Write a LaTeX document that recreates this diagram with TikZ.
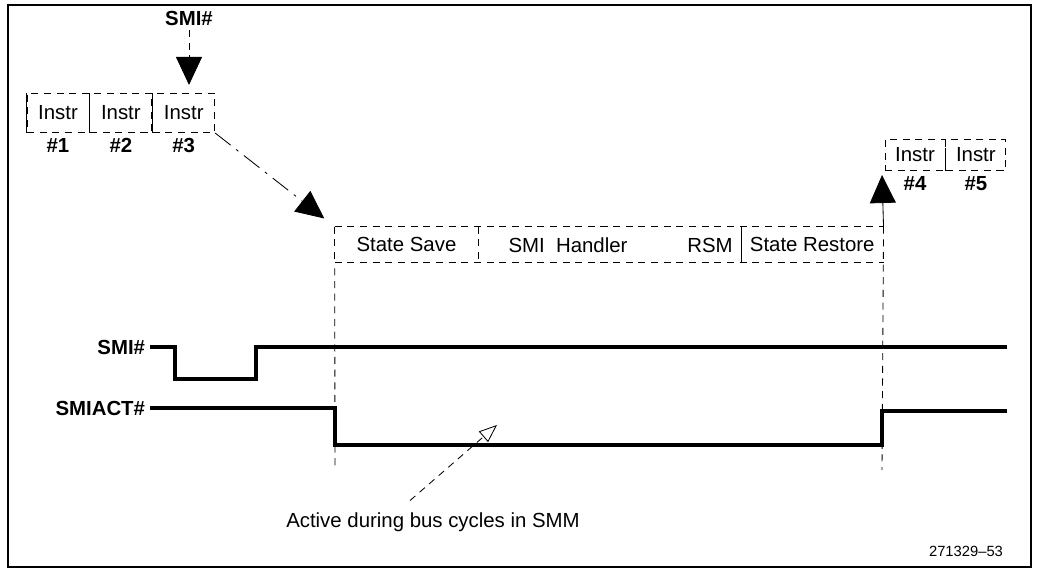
\documentclass[tikz,border=0pt]{standalone}
\usepackage{fontspec}
\setmainfont{Liberation Sans}
\usetikzlibrary{arrows.meta,positioning}

\begin{document}
\begin{tikzpicture}[
  x=0.025cm, y=-0.025cm,
  font=\fontsize{14.5}{17}\selectfont,
  instr/.style={draw, line width=0.6pt, dash pattern=on 5pt off 4pt, minimum width=1.55cm, minimum height=0.98cm, inner sep=0pt},
  seg/.style={minimum height=0.88cm, inner sep=0pt},
  num/.style={font=\fontsize{14.5}{17}\selectfont\bfseries},
  sig/.style={line width=3.4pt},
  guide/.style={line width=0.6pt, dash pattern=on 5pt off 4pt},
  big/.style={-{Triangle[length=0.7cm, width=0.65cm]}},
]
  \useasboundingbox (0,0) rectangle (1038,578);
  \draw[line width=0.9pt] (8,5) rectangle (1031,567);

  \node[instr] (i1) at (58,113) {Instr};
  \node[instr, right=0pt of i1] (i2) {Instr};
  \node[instr, right=0pt of i2] (i3) {Instr};
  \foreach \b in {i1,i2} \draw[line width=0.6pt] (\b.north east) -- (\b.south east);
  \draw[line width=0.6pt] (i1.north west) -- (i1.south west);
  \node[num, below=0pt of i1] (n1) {\#1};
  \node[num, below=0pt of i2] (n2) {\#2};
  \node[num, below=0pt of i3] (n3) {\#3};

  \node[num] (smitop) at (189,18) {SMI\#};
  \draw[guide, big, shorten >=0.2cm] (smitop.south) -- (smitop.south |- i3.north);

  \node[seg, minimum width=3.575cm] (ss) at (406.5,244.5) {State Save};
  \node[seg, minimum width=6.55cm, right=0pt of ss] (hd) {};
  \node[seg, minimum width=3.55cm, right=0pt of hd] (sr) {State Restore};
  \node (hdtxt) at (568,245) {SMI\ \ Handler};
  \node (rsm) at (710,245) {RSM};
  \draw[guide] (ss.north west) -- (sr.north east);
  \draw[guide] (ss.south west) -- (sr.south east);
  \draw[guide] (ss.north west) -- (ss.south west);
  \draw[guide] (ss.north east) -- (ss.south east);
  \draw[line width=0.6pt] (hd.north east) -- (hd.south east);

  \draw[big, line width=0.6pt, dash pattern=on 14pt off 5pt on 2pt off 5pt, shorten >=0.33cm] (i3.south east) -- (ss.north west);

  \node[instr, minimum width=1.5cm, minimum height=0.78cm] (i4) at (915,155) {Instr};
  \node[instr, minimum width=1.5cm, minimum height=0.78cm, right=0pt of i4] (i5) {Instr};
  \node[num, below=0pt of i4] (n4) {\#4};
  \node[num, below=0pt of i5] (n5) {\#5};

  \coordinate (rt) at (882,175);
  \coordinate (lb) at (335,470);
  \coordinate (rb) at (882,470);
  \draw[big, line width=0.6pt] (sr.north east) -- (rt);
  \draw[guide] (sr.north east) -- (rb);
  \draw[guide] ([shift={(0,6)}]ss.south west) -- (lb);

  \node[num, anchor=east] (smilbl) at (150,347) {SMI\#};
  \draw[sig] (smilbl.east) -- (175,347) -- (175,379) -- (256,379) -- (256,347) -- (1007,347);
  \node[num, anchor=east] (actlbl) at (150,408) {SMIACT\#};
  \draw[sig] (actlbl.east) -- (335,408) -- (335,445) -- (882,445) -- (882,411) -- (1007,411);

  \node (note) at (433,522) {Active during bus cycles in SMM};
  \coordinate (nt) at (497,425);
  \draw[guide, -{Triangle[open, length=0.45cm, width=0.35cm]}] ([shift={(-23,-7)}]note.north) -- (nt);

  \node[font=\fontsize{10.5}{12}\selectfont] (fignum) at (966,551) {271329--53};
\end{tikzpicture}
\end{document}
